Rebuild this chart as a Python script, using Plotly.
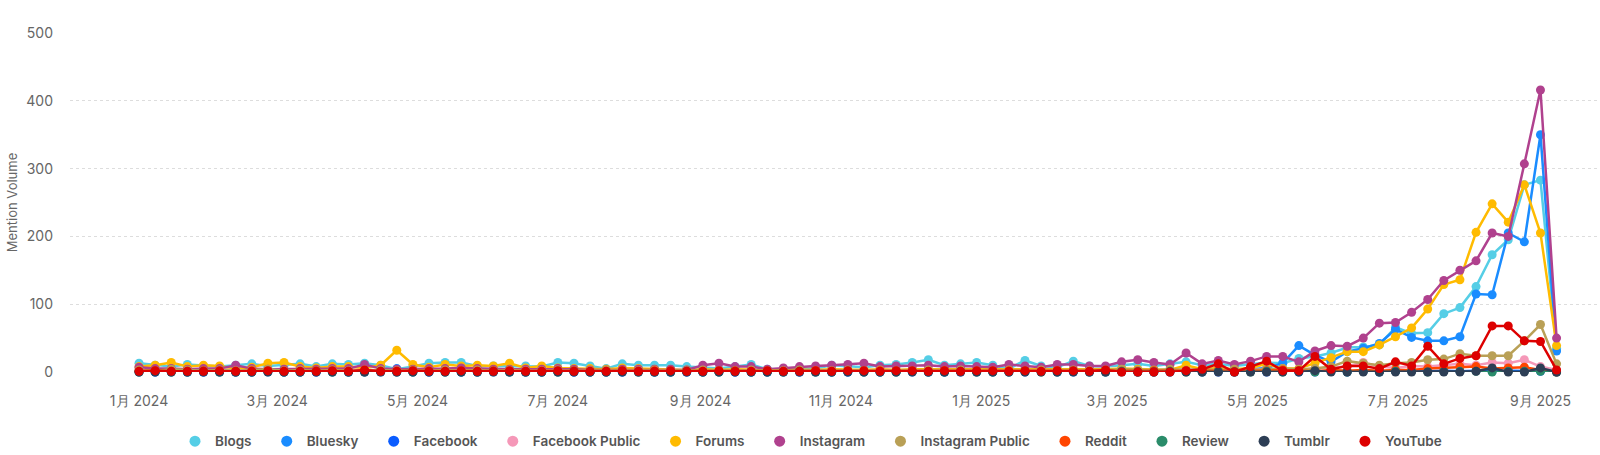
import pandas as pd
import plotly.graph_objects as go

# weekly buckets, Monday starts
weeks = pd.date_range("2024-01-01", periods=89, freq="7D")

blogs = [13, 10, 8, 11, 9, 8, 10, 12, 9, 10, 12, 8, 12, 11, 13, 10, 4, 8, 13, 14,
         14, 9, 9, 9, 9, 8, 14, 13, 9, 5, 12, 10, 10, 10, 8, 7, 5, 8, 11, 4,
         4, 4, 5, 10, 8, 7, 10, 11, 14, 18, 10, 12, 14, 10, 5, 17, 9, 7, 16, 9,
         8, 10, 12, 9, 12, 15, 10, 12, 9, 12, 14, 13, 20, 23, 28, 36, 37, 40, 66, 57,
         58, 86, 95, 126, 173, 195, 276, 283, 35]
bluesky = [0, 0, 0, 0, 0, 0, 0, 0, 0, 0, 0, 0, 0, 0, 1, 0, 5, 1, 0, 0,
           0, 0, 0, 1, 0, 0, 0, 0, 0, 0, 0, 0, 0, 0, 0, 0, 0, 0, 0, 0,
           1, 0, 0, 0, 0, 1, 0, 0, 1, 0, 0, 1, 0, 1, 2, 1, 1, 2, 2, 2,
           2, 3, 2, 3, 2, 4, 3, 5, 3, 4, 6, 13, 39, 25, 15, 30, 35, 42, 63, 51,
           46, 46, 52, 115, 114, 205, 192, 350, 31]
facebook = [1, 0, 1, 0, 0, 1, 0, 0, 1, 0, 0, 0, 1, 0, 0, 1, 0, 0, 0, 1,
            0, 0, 1, 0, 0, 0, 1, 0, 0, 0, 0, 1, 0, 0, 0, 0, 1, 0, 0, 0,
            0, 0, 1, 0, 0, 0, 0, 1, 0, 0, 0, 0, 1, 0, 0, 0, 1, 0, 0, 0,
            0, 1, 0, 0, 0, 1, 0, 0, 0, 1, 0, 1, 0, 0, 1, 0, 1, 0, 1, 2,
            1, 2, 1, 2, 1, 2, 2, 1, 0]
facebook_public = [3, 2, 3, 2, 2, 3, 4, 2, 3, 2, 2, 3, 2, 3, 4, 2, 3, 2, 3, 2,
                   2, 3, 2, 2, 3, 2, 2, 3, 2, 2, 2, 3, 2, 2, 2, 2, 3, 2, 2, 2,
                   2, 2, 3, 2, 2, 3, 2, 2, 3, 3, 2, 2, 3, 2, 2, 3, 2, 2, 3, 2,
                   3, 3, 2, 3, 2, 4, 3, 3, 2, 3, 4, 3, 3, 5, 6, 8, 14, 8, 6, 9,
                   8, 10, 12, 10, 14, 13, 18, 8, 3]
forums = [8, 10, 14, 8, 10, 9, 5, 7, 13, 14, 8, 6, 8, 8, 6, 10, 32, 11, 7, 11,
          9, 10, 9, 13, 6, 9, 6, 5, 5, 4, 6, 5, 4, 4, 3, 4, 3, 4, 3, 3,
          4, 3, 3, 4, 3, 3, 4, 3, 4, 4, 3, 4, 3, 4, 3, 4, 3, 4, 4, 3,
          4, 5, 4, 3, 3, 10, 4, 6, 4, 6, 12, 5, 5, 13, 21, 30, 30, 40, 52, 65,
          93, 129, 136, 206, 248, 221, 276, 205, 39]
instagram = [7, 5, 5, 4, 5, 5, 10, 5, 4, 4, 5, 4, 5, 5, 11, 5, 4, 4, 5, 5,
             6, 5, 4, 4, 4, 4, 5, 4, 3, 3, 4, 4, 4, 4, 3, 10, 13, 8, 8, 4,
             6, 8, 9, 10, 11, 13, 8, 9, 9, 10, 8, 9, 8, 7, 11, 9, 7, 11, 11, 9,
             9, 15, 18, 14, 11, 28, 12, 17, 11, 16, 23, 23, 15, 31, 39, 38, 50, 72, 73, 88,
             107, 135, 150, 164, 205, 200, 307, 416, 50]
instagram_public = [3, 2, 4, 3, 2, 3, 2, 3, 4, 2, 3, 2, 3, 2, 3, 3, 2, 3, 2, 3,
                    2, 3, 2, 3, 2, 2, 3, 2, 2, 3, 2, 2, 3, 2, 2, 3, 2, 2, 3, 2,
                    2, 3, 2, 2, 3, 2, 3, 2, 2, 3, 2, 3, 2, 2, 3, 2, 3, 2, 3, 2,
                    3, 4, 3, 3, 4, 3, 4, 3, 4, 3, 4, 5, 4, 5, 8, 16, 13, 10, 13, 14,
                    18, 19, 27, 24, 24, 24, 46, 70, 12]
reddit = [1, 2, 1, 1, 2, 1, 1, 2, 1, 1, 1, 2, 1, 1, 2, 1, 1, 1, 2, 1,
          1, 1, 2, 1, 1, 1, 1, 2, 1, 1, 1, 1, 2, 1, 1, 1, 1, 2, 1, 1,
          1, 1, 2, 1, 1, 1, 2, 1, 1, 1, 2, 1, 1, 1, 2, 1, 1, 2, 1, 1,
          2, 1, 1, 2, 1, 2, 1, 2, 1, 2, 2, 3, 2, 1, 3, 2, 3, 2, 3, 3,
          5, 6, 8, 8, 5, 6, 7, 3, 0]
review = [0, 1, 0, 0, 1, 0, 0, 0, 1, 0, 0, 1, 0, 0, 0, 1, 0, 0, 1, 0,
          0, 0, 1, 0, 0, 0, 0, 1, 0, 0, 1, 0, 0, 0, 1, 0, 0, 1, 0, 0,
          0, 1, 0, 0, 1, 0, 0, 0, 1, 0, 0, 1, 0, 0, 0, 1, 0, 0, 1, 0,
          0, 1, 0, 0, 1, 0, 0, 1, 0, 0, 1, 0, 1, 0, 1, 0, 1, 0, 1, 1,
          0, 1, 1, 1, 0, 1, 1, 1, 0]
tumblr = [0, 0, 0, 0, 0, 0, 0, 0, 0, 0, 0, 0, 0, 0, 0, 0, 0, 0, 0, 0,
          0, 0, 0, 0, 0, 0, 0, 0, 0, 0, 0, 0, 0, 0, 0, 0, 0, 0, 0, 0,
          0, 0, 0, 0, 0, 0, 0, 0, 0, 0, 0, 0, 0, 0, 0, 0, 0, 0, 0, 0,
          0, 0, 0, 0, 0, 0, 0, 0, 0, 0, 0, 0, 0, 2, 0, 0, 0, 0, 0, 0,
          0, 0, 0, 1, 6, 0, 0, 6, 0]
youtube = [1, 2, 1, 1, 1, 2, 1, 1, 2, 1, 1, 1, 2, 1, 3, 1, 1, 2, 1, 1,
           2, 1, 1, 2, 1, 1, 2, 1, 1, 1, 2, 1, 1, 2, 1, 1, 2, 1, 1, 2,
           1, 1, 2, 1, 2, 2, 1, 2, 2, 1, 2, 1, 2, 2, 1, 2, 1, 2, 2, 1,
           3, 0, 0, 0, 0, 2, 4, 12, 0, 8, 16, 2, 2, 23, 4, 9, 9, 5, 15, 9,
           38, 12, 20, 24, 68, 68, 46, 45, 3]

series = [
    ("Blogs", blogs, "#55cee6"),
    ("Bluesky", bluesky, "#1a8cff"),
    ("Facebook", facebook, "#0a5cff"),
    ("Facebook Public", facebook_public, "#f598b8"),
    ("Forums", forums, "#ffbb00"),
    ("Instagram", instagram, "#b0418e"),
    ("Instagram Public", instagram_public, "#b9a056"),
    ("Reddit", reddit, "#ff4500"),
    ("Review", review, "#2a8c6a"),
    ("Tumblr", tumblr, "#2d3e55"),
    ("YouTube", youtube, "#dd0000"),
]

tick_dates = ["2024-01-01", "2024-03-01", "2024-05-01", "2024-07-01", "2024-09-01",
              "2024-11-01", "2025-01-01", "2025-03-01", "2025-05-01", "2025-07-01",
              "2025-09-01"]
tick_labels = ["1月 2024", "3月 2024", "5月 2024", "7月 2024", "9月 2024", "11月 2024",
               "1月 2025", "3月 2025", "5月 2025", "7月 2025", "9月 2025"]

fig = go.Figure()
for name, vals, color in series:
    fig.add_trace(go.Scatter(
        x=weeks, y=vals, name=name, mode="lines+markers",
        line=dict(color=color, width=2.5),
        marker=dict(color=color, size=9),
        cliponaxis=False, showlegend=False, legendgroup=name,
    ))
# dot-only legend entries (trailing nbsp widens the gap between items)
for name, vals, color in series:
    fig.add_trace(go.Scatter(
        x=[None], y=[None], name=name + "\u00a0" * 3, mode="markers",
        marker=dict(color=color, size=11), legendgroup=name,
    ))

fig.update_layout(
    width=1600, height=455,
    margin=dict(l=70, r=2, t=33, b=83),
    paper_bgcolor="white", plot_bgcolor="white",
    font=dict(family="Inter, Roboto, sans-serif", color="#666666", size=14),
    showlegend=True,
    legend=dict(orientation="h", xref="container", x=0.51, xanchor="center",
                yref="container", y=0.03, yanchor="middle",
                font=dict(size=13.5, color="#555555", weight=600), itemwidth=30),
)
fig.update_xaxes(
    range=["2023-12-02", "2025-09-26"],
    tickvals=tick_dates, ticktext=tick_labels,
    showgrid=False, zeroline=False, showline=False,
    ticks="outside", ticklen=16, tickcolor="rgba(0,0,0,0)",
)
fig.update_yaxes(
    range=[0, 500], dtick=100,
    showgrid=True, gridcolor="#dddddd", griddash="dot", gridwidth=1,
    zeroline=False, showline=False,
    ticklabelstandoff=16,
    title=dict(text="Mention Volume", standoff=5, font=dict(size=13, color="#666666")),
)

fig.write_html("out.html", config={"displayModeBar": False},
               post_script="document.body.style.margin='0';document.body.style.overflow='hidden';")
